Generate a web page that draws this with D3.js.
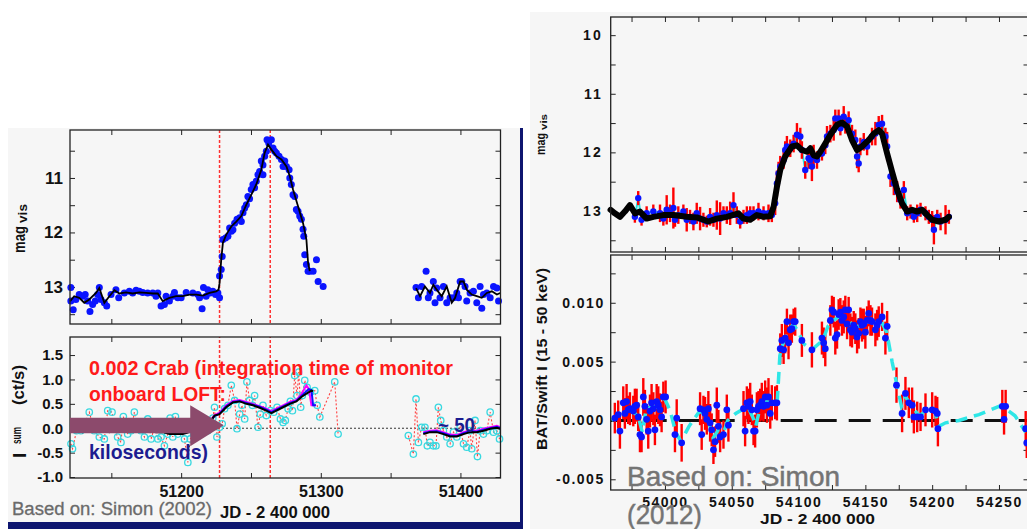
<!DOCTYPE html>
<html><head><meta charset="utf-8">
<script src="https://cdn.jsdelivr.net/npm/d3@7"></script>
<style>
body{margin:0;background:#fff;}
svg{display:block;}
</style>
</head><body>
<svg id="chart" width="1027" height="529"></svg>
<script>
// ================= DATA =================
// ---- Left panel (Simon 2002): visual magnitudes ----
const magDays = [51121.0,51121.0,51122.7,51124.6,51127.0,51129.4,51131.3,51133.0,51134.7,51136.6,51138.5,51140.2,51141.4,51142.6,51145.0,51146.7,51149.8,51153.3,51155.3,51159.3,51162.9,51165.3,51167.7,51170.1,51172.5,51176.0,51179.7,51182.0,51183.3,51185.6,51188.0,51189.2,51191.6,51194.0,51195.2,51197.6,51200.0,51203.6,51208.4,51212.0,51213.2,51215.0,51216.0,51217.9,51219.1,51220.8,51222.7,51224.6,51226.3,51227.5,
51227.5,51228.7,51229.4,51229.9,51231.8,51233.5,51234.7,51236.0,51237.1,51238.3,51240.0,51241.9,51243.1,51244.3,51245.5,51246.7,51247.8,51249.0,51250.2,51251.4,51252.6,51253.8,51255.0,51256.2,51257.4,51258.6,51258.6,51259.8,51261.0,51261.5,51262.7,51264.6,
51265.8,51267.0,51268.2,51270.1,51271.8,51273.0,51274.2,51275.4,51277.3,51277.8,51278.9,51280.1,51281.3,51282.5,51283.7,51284.9,51286.1,51287.3,51287.8,51288.5,51289.7,51290.9,51292.1,51294.5,51296.9,51298.1,51301.7,
51368.2,51369.9,51372.2,51375.4,51377.0,51378.2,51380.6,51381.8,51383.0,51385.4,51387.8,51390.2,51392.6,51395.0,51397.4,51398.6,51399.8,51401.0,51403.3,51404.5,51406.9,51409.3,51411.7,51414.1,51415.3,51416.5,51418.9,51421.3,51423.7,51426.1,51427.3];
const magVals = [13.01,13.26,13.42,13.23,13.14,13.17,13.14,13.26,13.45,13.32,13.26,13.14,13.01,13.23,13.29,13.35,13.14,13.05,13.20,13.11,13.08,13.11,13.06,13.08,13.10,13.11,13.11,13.17,13.11,13.35,13.32,13.17,13.26,13.17,13.10,13.20,13.20,13.10,13.11,13.14,13.20,13.40,13.01,13.17,13.05,13.11,13.08,13.14,13.11,13.20,
12.80,12.68,12.44,12.13,12.10,12.07,11.92,11.98,11.95,11.83,11.76,11.73,11.80,11.64,11.55,11.49,11.34,11.38,11.21,11.12,11.18,11.06,10.94,10.88,10.69,10.76,10.94,10.60,10.51,10.30,10.36,10.30,
10.45,10.51,10.54,10.60,10.66,10.79,10.69,10.79,10.85,11.00,11.12,11.31,11.34,11.58,11.61,11.70,11.76,11.94,12.07,12.41,12.59,12.71,12.71,12.71,12.50,12.90,12.99,
13.01,13.20,12.99,12.71,13.20,13.11,12.90,13.29,13.02,13.20,12.99,13.29,13.20,13.20,13.11,13.20,12.90,12.90,12.99,13.26,13.11,13.08,13.29,12.99,13.39,13.14,13.11,13.20,12.99,13.02,13.26];
// smoothed magnitude curve (null = gap)
const magLineDays = [51120.5,51123.4,51127.0,51130.6,51134.2,51139.0,51141.4,51145.0,51148.6,51152.2,51155.7,51160.5,51165.3,51170.1,51174.9,51179.7,51183.3,51186.8,51191.6,51196.4,51201.2,51206.0,51210.8,51215.6,51220.3,51225.1,51226.8,51227.5,51228.7,51229.9,51232.3,51235.9,51239.5,51243.1,51246.7,51250.2,51253.8,51257.4,51259.8,51262.2,51264.6,51268.2,51271.8,51275.4,51277.8,51280.1,51283.7,51287.3,51289.7,51290.9,51292.1,
51330,
51368.2,51371.1,51374.6,51378.2,51380.6,51383.0,51386.6,51390.2,51393.8,51396.2,51399.8,51402.2,51404.5,51408.1,51411.7,51415.3,51418.9,51422.5,51426.1,51428.5];
const magLineVals = [13.26,13.17,13.20,13.29,13.23,13.11,13.02,13.29,13.17,13.06,13.12,13.10,13.12,13.10,13.11,13.12,13.12,13.26,13.20,13.17,13.17,13.14,13.14,13.16,13.11,13.08,13.05,12.93,12.50,12.19,12.04,11.89,11.80,11.70,11.49,11.31,11.12,10.85,10.54,10.39,10.48,10.60,10.66,10.79,10.97,11.21,11.52,11.83,12.13,12.56,12.71,
null,
13.02,13.17,12.99,13.11,12.96,13.05,13.17,12.99,13.29,13.20,12.90,12.90,13.05,13.14,13.17,13.20,13.11,13.08,13.14,13.11];

// ---- Left panel: I_sum (ct/s) ----
const isumDays = [51121.1,51122.2,51125.1,51128.2,51134.2,51137.8,51141.4,51145.0,51147.4,51150.5,51152.2,51154.5,51156.9,51158.6,51161.7,51164.1,51166.5,51168.9,51171.3,51173.7,51176.1,51178.5,51180.9,51183.3,51185.6,51188.0,51190.4,51192.1,51194.0,51195.9,51197.6,51200.0,51202.4,51204.8,51206.5,51208.9,51212.0,51215.6,51219.1,51222.7,51223.9,51225.6,51227.5,51229.4,51231.1,51233.5,51235.9,51238.3,51240.0,51241.9,51243.5,51245.5,51247.1,51249.0,51251.0,51252.6,51255.0,51256.7,51258.6,51261.0,51263.9,51266.3,51268.7,51271.1,51273.0,51274.6,51276.6,51278.2,51279.7,51281.3,51283.0,51284.2,51285.6,51286.8,51288.5,51290.2,51292.6,51295.7,51297.4,51299.3,51310.0,51312.4,
null,
51362.7,51366.3,51368.2,51369.9,51372.2,51374.6,51376.3,51378.2,51380.6,51382.5,51384.2,51385.9,51387.8,51390.2,51392.6,51395.0,51397.4,51399.8,51402.2,51404.5,51406.9,51408.1,51410.5,51412.2,51414.1,51416.5,51418.9,51421.3,51423.7,51426.1,51428.0];
const isumVals = [-0.32,-0.42,-0.05,-0.05,0.33,-0.05,-0.18,-0.22,0.36,0.33,-0.01,-0.18,-0.29,0.24,-0.12,-0.05,0.33,0.02,-0.05,-0.18,0.19,-0.22,0.02,-0.22,-0.18,-0.36,-0.12,0.21,-0.18,0.24,-0.12,-0.05,-0.22,-0.70,-0.22,-0.12,-0.08,-0.01,-0.05,0.21,0.43,-0.18,0.02,0.09,0.40,0.47,0.88,0.57,-0.01,0.29,0.47,0.19,0.95,0.57,0.47,0.67,0.02,0.29,0.47,0.26,0.36,0.33,0.43,0.19,0.12,0.16,0.40,0.55,0.36,1.08,0.67,1.15,0.43,0.67,0.98,0.84,0.74,0.77,0.47,0.23,0.95,-0.12,
null,
-0.15,-0.53,0.60,-0.29,0.02,0.02,-0.36,-0.29,-0.36,-0.36,0.43,0.16,-0.05,-0.18,-0.32,-0.08,-0.18,0.02,-0.32,-0.39,-0.05,-0.42,0.16,-0.58,-0.05,-0.12,-0.05,0.33,-0.08,-0.05,-0.22];
// running sums (black, blue, magenta); null = gap
const smoothDays = [51120.5,51124.6,51129.4,51134.2,51139.0,51143.8,51148.6,51153.3,51158.1,51162.9,51167.7,51172.5,51177.3,51182.1,51186.8,51191.6,51196.4,51201.2,51206.0,51210.8,51217.9,51223.9,51227.5,51232.3,51237.1,51241.9,51246.7,51251.4,51256.2,51261.0,51264.6,51268.2,51273.0,51277.8,51282.5,51286.1,51289.7,51291.5,51293.3,51294.5,51296.5,
51330,
51373.4,51378.2,51383.0,51387.8,51392.6,51397.4,51402.2,51406.9,51411.7,51416.5,51421.3,51426.1,51428.5];
const smoothBlack = [0.02,0.02,-0.08,-0.05,-0.01,-0.05,-0.08,-0.01,-0.05,-0.05,-0.03,-0.05,-0.05,-0.08,-0.08,-0.12,-0.12,-0.12,-0.08,-0.05,0.02,0.26,0.29,0.43,0.53,0.55,0.50,0.47,0.42,0.36,0.31,0.36,0.43,0.50,0.55,0.64,0.71,0.74,0.77,0.76,null,
null,
-0.12,-0.08,-0.08,-0.12,-0.17,-0.17,-0.12,-0.08,-0.08,-0.05,-0.01,0.01,-0.01];
const smoothBlue = [0.03,0.00,-0.06,-0.03,-0.02,-0.04,-0.06,-0.02,-0.04,-0.06,-0.02,-0.04,-0.06,-0.07,-0.06,-0.10,-0.11,-0.10,-0.07,-0.04,0.03,0.25,0.30,0.45,0.54,0.56,0.52,0.48,0.44,0.38,0.33,0.38,0.45,0.52,0.56,0.66,0.76,0.80,0.78,0.47,0.47,
null,
-0.10,-0.07,-0.06,-0.10,-0.15,-0.16,-0.10,-0.06,-0.07,-0.03,0.00,0.03,0.00];
const smoothMagenta = [0.05,0.03,-0.04,-0.01,0.01,-0.02,-0.04,0.01,-0.02,-0.03,0.00,-0.02,-0.03,-0.05,-0.04,-0.08,-0.09,-0.08,-0.05,-0.02,0.05,0.27,0.32,0.47,0.56,0.58,0.54,0.50,0.45,0.40,0.35,0.40,0.47,0.54,0.58,0.70,0.88,0.80,0.47,0.47,0.47,
null,
-0.08,-0.05,-0.04,-0.08,-0.13,-0.14,-0.08,-0.04,-0.05,-0.01,0.02,0.05,0.02];
const markerDays = [51227.5, 51263.8];   // red dotted vertical lines

// ---- Right panel (Simon 2012): visual magnitudes ----
const rMagDays = [53977.5,53980.0,53982.5,53986.3,53991.3,53996.3,53998.8,54001.3,54003.8,54006.3,54007.5,54010.0,54013.8,54016.3,54018.8,54021.3,54023.8,54026.3,54028.8,54031.3,54033.8,54036.3,54038.8,54041.3,54043.8,54046.3,54048.8,54051.3,54053.8,54056.3,54058.8,54061.3,54063.8,54066.3,54070.0,54073.8,54077.5,54080.0,54082.5,54083.8,54085.0,54086.3,54088.8,54090.0,54091.3,54093.8,54096.3,54098.8,54101.3,54102.5,54105.0,54107.5,54108.8,54110.0,54111.3,54113.8,54117.5,54120.0,54121.3,54123.8,54126.3,54127.5,54130.0,54131.3,54133.8,54135.0,54137.5,54140.0,54142.5,54143.8,54145.0,54146.3,54148.8,54151.3,54155.0,54157.5,54160.0,54162.5,54165.0,54166.3,54168.8,54171.3,54173.8,54176.3,54178.8,54181.3,54183.8,54186.3,54188.8,54191.3,54195.0,54197.5,54200.0,54201.3,54203.8,54206.3,54210.0,54212.5];
const rMagVals = [13.10,12.78,13.15,13.04,13.01,13.04,13.13,12.98,13.04,12.95,13.15,13.07,13.01,13.15,13.10,13.18,13.04,13.13,13.15,13.18,13.10,13.15,13.07,13.13,13.04,13.07,13.04,12.90,13.07,13.18,13.10,13.07,13.04,13.04,13.01,13.04,13.04,13.07,12.87,12.53,12.36,12.24,12.13,11.96,11.90,11.93,11.85,11.70,11.73,11.96,12.30,12.10,12.13,12.24,12.07,12.13,12.02,11.88,11.73,11.68,11.62,11.42,11.42,11.59,11.39,11.53,11.45,11.68,11.79,12.07,12.19,11.90,11.82,11.90,11.73,11.68,11.53,11.51,11.73,11.90,12.41,12.53,12.67,12.81,12.64,13.04,13.01,13.10,13.04,12.98,13.04,13.10,13.15,13.32,13.10,13.18,13.15,13.10];
const rMagErr = [0.10,0.12,0.10,0.12,0.12,0.15,0.12,0.25,0.15,0.35,0.12,0.15,0.12,0.20,0.12,0.15,0.18,0.20,0.12,0.10,0.15,0.12,0.25,0.28,0.12,0.15,0.20,0.22,0.15,0.12,0.12,0.15,0.12,0.12,0.15,0.12,0.15,0.12,0.20,0.22,0.20,0.18,0.15,0.15,0.18,0.15,0.15,0.20,0.15,0.15,0.15,0.18,0.15,0.25,0.20,0.15,0.12,0.15,0.18,0.15,0.18,0.15,0.15,0.12,0.18,0.15,0.15,0.15,0.18,0.20,0.15,0.15,0.15,0.15,0.15,0.20,0.15,0.15,0.15,0.25,0.18,0.20,0.18,0.15,0.15,0.12,0.12,0.10,0.15,0.12,0.12,0.12,0.15,0.25,0.12,0.15,0.25,0.12];
const rMagLineDays = [53959.3,53962.5,53966.3,53970.0,53973.8,53977.5,53981.3,53986.3,53991.3,53998.8,54006.3,54016.3,54023.8,54032.5,54038.8,54046.3,54055.0,54058.8,54063.8,54068.8,54073.8,54078.8,54081.3,54083.8,54086.3,54090.0,54095.0,54098.8,54102.5,54106.3,54108.8,54111.3,54113.8,54116.3,54120.0,54123.8,54128.8,54132.5,54136.3,54140.0,54143.8,54147.5,54152.5,54156.3,54160.0,54162.5,54166.3,54170.0,54173.8,54177.5,54181.3,54185.0,54188.8,54192.5,54196.3,54200.0,54205.0,54210.0,54212.5];
const rMagLineVals = [12.98,13.04,13.10,13.01,12.90,13.04,13.01,13.13,13.10,13.07,13.07,13.10,13.11,13.18,13.13,13.10,13.04,13.13,13.15,13.07,13.10,13.09,12.93,12.59,12.30,12.07,11.90,11.88,11.96,11.99,11.93,12.05,12.07,11.99,11.85,11.70,11.53,11.49,11.56,11.79,11.96,11.90,11.79,11.68,11.62,11.68,12.02,12.33,12.64,12.87,13.01,12.98,13.01,12.98,13.07,13.15,13.18,13.15,13.10];

// ---- Right panel: BAT/Swift 15-50 keV ----
const batDays = [53962.5,53965.0,53966.3,53968.8,53970.0,53971.3,53972.5,53973.8,53976.3,53977.5,53978.8,53980.0,53981.3,53982.5,53983.8,53985.0,53986.3,53987.5,53988.8,53990.0,53991.3,53992.5,53993.8,53995.0,53996.3,53997.5,53998.8,54000.5,54007.5,54008.8,54012.5,54026.3,54027.5,54028.8,54030.0,54031.3,54032.5,54033.8,54035.0,54036.3,54037.5,54038.8,54040.0,54041.3,54043.8,54046.3,54047.5,54058.8,54060.0,54061.3,54062.5,54063.8,54065.0,54066.3,54067.5,54068.8,54070.0,54071.3,54072.5,54073.8,54075.0,54076.3,54077.5,54078.8,54080.0,54082.5,54083.8,54086.3,54087.5,54088.8,54090.0,54091.3,54092.5,54093.8,54095.0,54096.3,54097.5,54102.5,54110.0,54117.5,54118.8,54120.0,54123.8,54125.0,54126.3,54127.5,54128.8,54130.0,54131.3,54132.5,54133.8,54135.0,54136.3,54137.5,54138.8,54140.0,54141.3,54142.5,54143.8,54145.0,54146.3,54147.5,54148.8,54150.0,54151.3,54152.5,54153.8,54155.0,54157.5,54158.8,54160.0,54162.5,54165.0,54166.3,54173.3,54177.5,54180.0,54182.5,54185.0,54186.3,54188.8,54191.3,54195.0,54200.0,54202.5,54203.8,54204.3,54252.5,54253.8,54255.0,54270.0,54270.8];
const batVals = [0.0002,0.0005,-0.0009,0.0015,0.0006,0.0016,0.0009,0.0010,0.0008,0.0012,0.0013,0.0003,-0.0012,-0.0014,0.0020,0.0012,0.0001,-0.0009,0.0008,0.0015,0.0010,-0.0008,0.0016,0.0013,0.0009,0.0003,0.0020,0.0020,-0.0012,0.0002,-0.0019,0.0010,-0.0012,0.0009,0.0006,0.0001,0.0010,-0.0002,-0.0008,-0.0025,-0.0018,0.0013,-0.0005,-0.0014,-0.0012,0.0009,-0.0004,0.0010,-0.0009,0.0015,0.0012,0.0016,0.0009,-0.0009,-0.0009,0.0009,0.0012,0.0013,0.0016,0.0012,0.0020,0.0013,0.0020,0.0006,0.0015,0.0015,0.0015,0.0061,0.0068,0.0060,0.0070,0.0084,0.0066,0.0077,0.0078,0.0084,0.0084,0.0068,0.0060,0.0070,0.0066,0.0061,0.0085,0.0094,0.0092,0.0070,0.0073,0.0090,0.0092,0.0085,0.0088,0.0094,0.0082,0.0094,0.0077,0.0075,0.0081,0.0078,0.0071,0.0074,0.0084,0.0081,0.0082,0.0075,0.0085,0.0091,0.0085,0.0084,0.0077,0.0081,0.0084,0.0088,0.0070,0.0080,0.0030,0.0006,0.0023,0.0015,0.0013,0.0003,0.0003,0.0003,0.0009,0.0009,0.0008,0.0006,-0.0007,0.0012,0.0001,0.0012,-0.0007,-0.0019];
const batErr = [0.0013,0.0012,0.0015,0.0014,0.0013,0.0015,0.0012,0.0014,0.0013,0.0015,0.0014,0.0012,0.0015,0.0013,0.0016,0.0014,0.0013,0.0015,0.0014,0.0016,0.0014,0.0013,0.0015,0.0016,0.0014,0.0013,0.0013,0.0014,0.0015,0.0016,0.0016,0.0014,0.0013,0.0012,0.0014,0.0013,0.0015,0.0016,0.0014,0.0012,0.0013,0.0015,0.0014,0.0013,0.0012,0.0013,0.0014,0.0015,0.0013,0.0014,0.0015,0.0016,0.0013,0.0012,0.0014,0.0015,0.0013,0.0014,0.0016,0.0013,0.0014,0.0015,0.0016,0.0013,0.0015,0.0014,0.0015,0.0013,0.0014,0.0012,0.0013,0.0011,0.0014,0.0013,0.0012,0.0011,0.0012,0.0014,0.0015,0.0014,0.0013,0.0015,0.0013,0.0012,0.0013,0.0014,0.0012,0.0013,0.0012,0.0013,0.0014,0.0012,0.0013,0.0011,0.0014,0.0013,0.0012,0.0013,0.0014,0.0013,0.0012,0.0014,0.0013,0.0014,0.0012,0.0011,0.0013,0.0012,0.0014,0.0013,0.0013,0.0012,0.0014,0.0013,0.0015,0.0016,0.0014,0.0013,0.0015,0.0014,0.0013,0.0012,0.0014,0.0015,0.0013,0.0014,0.0015,0.0014,0.0013,0.0014,0.0015,0.0013];
const batTrendDays = [53960,53965,53970,53975,53980,53983,53986,53990,53995,54000,54004,54008,54012,54018,54026,54030,54033,54036,54040,54044,54047,54053,54059,54062,54066,54068,54071,54076,54080,54084,54086,54089,54092,54096,54100,54104,54110,54118,54122,54126,54130,54134,54138,54142,54146,54150,54154,54158,54162,54166,54170,54174,54177,54180,54185,54190,54196,54202,54205,54210,54220,54235,54250,54255,54262,54270];
const batTrendVals = [0.0000,0.0005,0.0010,0.0008,0.0004,-0.0010,0.0010,0.0012,0.0011,0.0018,0.0008,-0.0010,-0.0018,-0.0005,0.0008,0.0005,-0.0002,-0.0015,-0.0008,-0.0010,0.0000,0.0006,0.0010,0.0012,0.0002,-0.0005,0.0010,0.0016,0.0015,0.0015,0.0055,0.0068,0.0075,0.0082,0.0075,0.0065,0.0060,0.0068,0.0080,0.0085,0.0088,0.0086,0.0084,0.0080,0.0080,0.0082,0.0086,0.0082,0.0084,0.0075,0.0050,0.0028,0.0012,0.0020,0.0012,0.0004,0.0008,0.0008,-0.0005,-0.0002,0.0000,0.0005,0.0012,0.0010,0.0004,-0.0010];

// ---- ticks & labels ----
const leftXTicks = [51150,51200,51250,51300,51350,51400];
const leftXLabels = ["","51200","","51300","","51400"];
const leftMagTicks = [10.5,11,11.5,12,12.5,13,13.5];
const leftMagLabels = ["","11","","12","","13",""];
const isumTicks = [-1.0,-0.5,0.0,0.5,1.0,1.5];
const isumLabels = ["-1.0","-0.5","0.0","0.5","1.0","1.5"];
const rightXTicks = [53975,54000,54025,54050,54075,54100,54125,54150,54175,54200,54225,54250];
const rightXLabels = ["","54000","","54050","","54100","","54150","","54200","","54250"];
const rightMagTicks = [10,10.5,11,11.5,12,12.5,13,13.5];
const rightMagLabels = ["10","","11","","12","","13",""];
const batTicks = [-0.005,-0.0025,0,0.0025,0.005,0.0075,0.01,0.0125];
const batLabels = ["-0.005","","0.000","","0.005","","0.010",""];

// annotation arrow (data space of the I_sum panel)
const arrowFromDay = 51120.4, arrowToDay = 51230.5, arrowHeadDay = 51206.5, arrowLevel = 0.06;

// ================= DRAW =================
const FONT = "'Liberation Sans', Arial, Helvetica, sans-serif";
const svg = d3.select("#chart").attr("font-family", FONT);

// panel backgrounds
svg.append("rect").attr("x",8).attr("y",128).attr("width",515).attr("height",401).attr("fill","#f6f6f6");
svg.append("rect").attr("x",530).attr("y",12).attr("width",497).attr("height",517).attr("fill","#f6f6f6");
svg.append("rect").attr("x",520).attr("y",128).attr("width",3).attr("height",401).attr("fill","#0e1670");
svg.append("rect").attr("x",8).attr("y",522).attr("width",515).attr("height",7).attr("fill","#0e1670");

// scales
const xL  = d3.scaleLinear().domain([51120.4, 51428.7]).range([70, 500.5]);
const yLT = d3.scaleLinear().domain([10.12, 13.68]).range([130, 324]);
const yLB = d3.scaleLinear().domain([-1.02, 1.87]).range([478, 337]);
const xR  = d3.scaleLinear().domain([53959.4, 54272.1]).range([610.7, 1028.5]);
const yRT = d3.scaleLinear().domain([9.69, 13.70]).range([17, 252]);
const yRB = d3.scaleLinear().domain([-0.00591, 0.01406]).range([490, 255]);

function zip2(a,b){ const n=Math.min(a.length,b.length); const r=[]; for(let i=0;i<n;i++) r.push({x:a[i],y:b[i]}); return r; }
function zip3(a,b,c){ const n=Math.min(a.length,b.length,c.length); const r=[]; for(let i=0;i<n;i++) r.push({x:a[i],y:b[i],e:c[i]}); return r; }

function axis(gen, tx, ty, ticks, labels, size, pad, spacing){
  const lab = new Map(ticks.map((t,i)=>[t, labels ? labels[i] : ""]));
  const g = svg.append("g").attr("transform",`translate(${tx},${ty})`)
    .call(gen.tickValues(ticks).tickSizeInner(-5).tickSizeOuter(0).tickPadding(pad).tickFormat(d=>lab.get(d)||""));
  g.select(".domain").remove();
  g.selectAll("line").attr("stroke","#222").attr("stroke-width",1);
  g.selectAll("text").attr("font-family",FONT).attr("font-weight","bold").attr("font-size",size)
    .attr("fill","#111").attr("letter-spacing",spacing||0);
  return g;
}
function frame(x0,y0,x1,y1){
  svg.append("rect").attr("x",x0).attr("y",y0).attr("width",x1-x0).attr("height",y1-y0)
    .attr("fill","none").attr("stroke","#222").attr("stroke-width",1.3);
}

// ---------- LEFT TOP ----------
axis(d3.axisTop(xL), 0, 130, leftXTicks, null, 16, 8);
axis(d3.axisBottom(xL), 0, 324, leftXTicks, null, 16, 8);
axis(d3.axisLeft(yLT), 70, 0, leftMagTicks, leftMagLabels, 17, 7);
axis(d3.axisRight(yLT), 500.5, 0, leftMagTicks, null, 16, 7);

const gLT = svg.append("g");
gLT.selectAll("line.mk").data(markerDays).join("line")
  .attr("x1",d=>xL(d)).attr("x2",d=>xL(d)).attr("y1",yLT.range()[0]).attr("y2",yLT.range()[1])
  .attr("stroke","#ff3030").attr("stroke-width",1.5).attr("stroke-dasharray","3,2");
gLT.selectAll("circle").data(zip2(magDays,magVals)).join("circle")
  .attr("cx",d=>xL(d.x)).attr("cy",d=>yLT(d.y)).attr("r",3.5).attr("fill","#0a14ff");
gLT.append("path").datum(zip2(magLineDays,magLineVals))
  .attr("d", d3.line().defined(d=>d.y!=null).x(d=>xL(d.x)).y(d=>yLT(d.y)))
  .attr("fill","none").attr("stroke","#000").attr("stroke-width",1.8);
frame(70,130,500.5,324);

// ---------- LEFT BOTTOM ----------
axis(d3.axisTop(xL), 0, 337, leftXTicks, null, 16, 8);
axis(d3.axisBottom(xL), 0, 478, leftXTicks, leftXLabels, 16, 8);
axis(d3.axisLeft(yLB), 70, 0, isumTicks, isumLabels, 15, 7);
axis(d3.axisRight(yLB), 500.5, 0, isumTicks, null, 15, 7);

const gLB = svg.append("g");
gLB.append("line").attr("x1",xL.range()[0]).attr("x2",xL.range()[1]).attr("y1",yLB(0)).attr("y2",yLB(0))
  .attr("stroke","#333").attr("stroke-width",1).attr("stroke-dasharray","2,2");
gLB.selectAll("line.mk").data(markerDays).join("line").attr("class","mk")
  .attr("x1",d=>xL(d)).attr("x2",d=>xL(d)).attr("y1",yLB.range()[0]).attr("y2",yLB.range()[1])
  .attr("stroke","#ff3030").attr("stroke-width",1.5).attr("stroke-dasharray","3,2");
const isumPts = zip2(isumDays,isumVals);
gLB.append("path").datum(isumPts)
  .attr("d", d3.line().defined(d=>d.y!=null && d.x!=null).x(d=>xL(d.x)).y(d=>yLB(d.y)))
  .attr("fill","none").attr("stroke","#ff4040").attr("stroke-width",1.1).attr("stroke-dasharray","2,2");
gLB.selectAll("circle").data(isumPts.filter(d=>d.y!=null)).join("circle")
  .attr("cx",d=>xL(d.x)).attr("cy",d=>yLB(d.y)).attr("r",3.2).attr("fill","none")
  .attr("stroke","#38d8e0").attr("stroke-width",1.3);
const sLine = d3.line().defined(d=>d.y!=null).x(d=>xL(d.x)).y(d=>yLB(d.y));
[[smoothMagenta,"#ff00ff"],[smoothBlue,"#1010ff"],[smoothBlack,"#000"]].forEach(([v,c])=>{
  gLB.append("path").datum(zip2(smoothDays,v)).attr("d",sLine)
    .attr("fill","none").attr("stroke",c).attr("stroke-width",2);
});
frame(70,337,500.5,478);

// arrow annotation
{
  const x0=xL(arrowFromDay), x1=xL(arrowToDay), xh=xL(arrowHeadDay), yc=yLB(arrowLevel);
  svg.append("path").attr("d",`M${x0},${yc-7.5}L${xh},${yc-7.5}L${xh},${yc-20}L${x1},${yc}L${xh},${yc+21}L${xh},${yc+8}L${x0},${yc+8}Z`)
    .attr("fill","#8c4a6c");
}
// annotation texts
function note(x,y,txt,size,len,fill){
  return svg.append("text").attr("x",x).attr("y",y).attr("font-size",size).attr("font-weight","bold")
    .attr("fill",fill).attr("textLength",len).attr("lengthAdjust","spacingAndGlyphs").text(txt);
}
note(89,375,"0.002 Crab (integration time of monitor",21,364,"#ff1a1a");
note(89,401,"onboard LOFT:",21,137,"#ff1a1a");
note(89,459,"kiloseconds)",21,119,"#1c1c90");
note(438,432,"~ 50",21,37,"#1c1c90");

// left axis titles
function rot(x,y,txt,size,len,weight,fill){
  const t = svg.append("text").attr("transform",`translate(${x},${y}) rotate(-90)`)
    .attr("font-size",size).attr("font-weight",weight||"bold").attr("fill",fill||"#111").text(txt);
  if(len) t.attr("textLength",len).attr("lengthAdjust","spacingAndGlyphs");
  return t;
}
rot(25,253,"mag",17,27);
rot(27,223,"vis",12,19);
rot(26,458,"I",19,null);
rot(21,444,"sum",12,17);
rot(24,405,"(ct/s)",17,40);
svg.append("text").attr("x",220).attr("y",518).attr("font-size",16).attr("font-weight","bold").attr("fill","#111")
  .attr("textLength",110).attr("lengthAdjust","spacingAndGlyphs").text("JD - 2 400 000");
svg.append("text").attr("x",12).attr("y",515).attr("font-size",18).attr("fill","#6a6a6a")
  .attr("stroke","#6a6a6a").attr("stroke-width",0.3)
  .attr("textLength",200).attr("lengthAdjust","spacingAndGlyphs").text("Based on: Simon (2002)");

// ---------- RIGHT TOP ----------
axis(d3.axisTop(xR), 0, 17, rightXTicks, null, 14, 8);
axis(d3.axisBottom(xR), 0, 252, rightXTicks, null, 14, 8);
axis(d3.axisLeft(yRT), 610.7, 0, rightMagTicks, rightMagLabels, 14, 8, 2);
axis(d3.axisRight(yRT), 1028.5, 0, rightMagTicks, null, 14, 8);

const gRT = svg.append("g");
const rPts = zip3(rMagDays,rMagVals,rMagErr);
gRT.append("path").datum(rPts).attr("d", d3.line().x(d=>xR(d.x)).y(d=>yRT(d.y)))
  .attr("fill","none").attr("stroke","#28e0e0").attr("stroke-width",2);
gRT.selectAll("line.err").data(rPts).join("line").attr("class","err")
  .attr("x1",d=>xR(d.x)).attr("x2",d=>xR(d.x)).attr("y1",d=>yRT(d.y-d.e)).attr("y2",d=>yRT(d.y+d.e))
  .attr("stroke","#ff0000").attr("stroke-width",2.4);
gRT.selectAll("circle").data(rPts).join("circle")
  .attr("cx",d=>xR(d.x)).attr("cy",d=>yRT(d.y)).attr("r",3.2).attr("fill","#0a14ff");
gRT.append("path").datum(zip2(rMagLineDays,rMagLineVals)).attr("d", d3.line().x(d=>xR(d.x)).y(d=>yRT(d.y)))
  .attr("fill","none").attr("stroke","#000").attr("stroke-width",6).attr("stroke-linejoin","round").attr("stroke-linecap","round");
frame(610.7,17,1028.5,252);
rot(545,155,"mag",12,22);
rot(547,130,"vis",9,16);

// ---------- RIGHT BOTTOM ----------
axis(d3.axisTop(xR), 0, 255, rightXTicks, null, 14, 8);
axis(d3.axisBottom(xR), 0, 490, rightXTicks, rightXLabels, 14, 7, 1.5);
axis(d3.axisLeft(yRB), 610.7, 0, batTicks, batLabels, 14, 6, 1.5);
axis(d3.axisRight(yRB), 1028.5, 0, batTicks, null, 14, 8);

const gRB = svg.append("g");
const bPts = zip3(batDays,batVals,batErr);
gRB.append("line").attr("x1",xR.range()[0]).attr("x2",xR.range()[1]).attr("y1",yRB(0)).attr("y2",yRB(0))
  .attr("stroke","#111").attr("stroke-width",3).attr("stroke-dasharray","22,12");
gRB.selectAll("line.err").data(bPts).join("line").attr("class","err")
  .attr("x1",d=>xR(d.x)).attr("x2",d=>xR(d.x)).attr("y1",d=>yRB(d.y-d.e)).attr("y2",d=>yRB(d.y+d.e))
  .attr("stroke","#ff0000").attr("stroke-width",2.4);
gRB.append("path").datum(zip2(batTrendDays,batTrendVals)).attr("d", d3.line().x(d=>xR(d.x)).y(d=>yRB(d.y)))
  .attr("fill","none").attr("stroke","#2ee6e6").attr("stroke-width",3.5).attr("stroke-dasharray","12,7");
gRB.selectAll("circle").data(bPts).join("circle")
  .attr("cx",d=>xR(d.x)).attr("cy",d=>yRB(d.y)).attr("r",3.4).attr("fill","#0a14ff");
frame(610.7,255,1028.5,490);
rot(547,450,"BAT/Swift  I  (15 - 50 keV)",14,182);
svg.append("text").attr("x",760).attr("y",524).attr("font-size",14).attr("font-weight","bold").attr("fill","#111")
  .attr("textLength",115).attr("lengthAdjust","spacingAndGlyphs").text("JD - 2 400 000");
svg.append("text").attr("x",627).attr("y",486).attr("font-size",28).attr("fill","#747474")
  .attr("stroke","#747474").attr("stroke-width",0.5)
  .attr("textLength",213).attr("lengthAdjust","spacingAndGlyphs").text("Based on: Simon");
svg.append("text").attr("x",627).attr("y",524).attr("font-size",28).attr("fill","#747474")
  .attr("stroke","#747474").attr("stroke-width",0.5)
  .attr("textLength",75).attr("lengthAdjust","spacingAndGlyphs").text("(2012)");
</script>
</body></html>
